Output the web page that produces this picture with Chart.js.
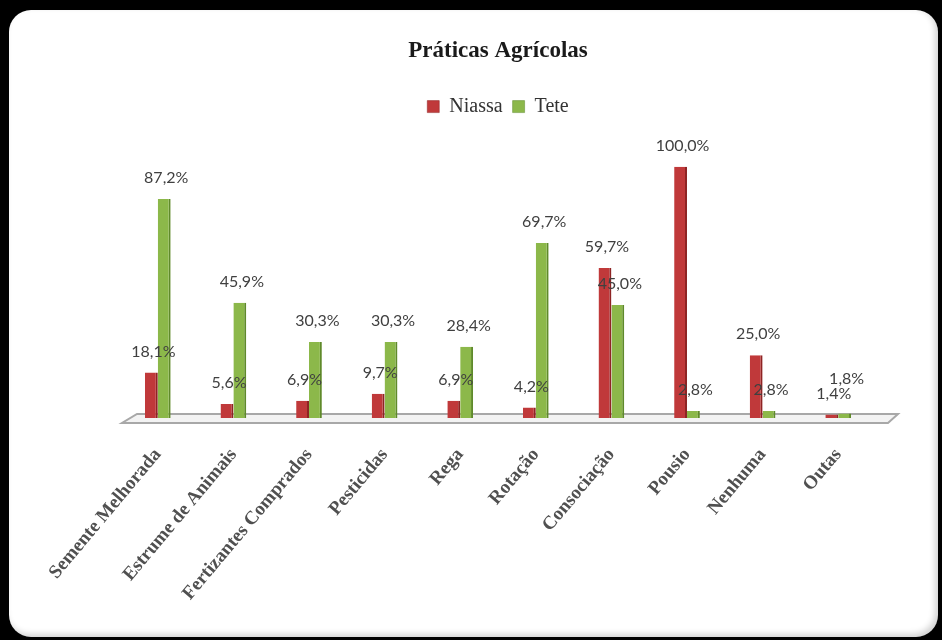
<!DOCTYPE html>
<html>
<head>
<meta charset="utf-8">
<script src="https://cdn.jsdelivr.net/npm/chart.js@4/dist/chart.umd.min.js"></script>
<style>
  html, body { margin: 0; padding: 0; background: #000; }
  body { width: 942px; height: 640px; position: relative; overflow: hidden; }
  .card {
    position: absolute; left: 9px; top: 10px; width: 929px; height: 627px;
    background: #fff; border-radius: 22px;
    box-shadow: inset -3px -3px 6px rgba(0,0,0,0.18);
  }
  #chart { position: absolute; left: 0; top: 0; }
</style>
</head>
<body>
<div class="card"></div>
<canvas id="chart" width="942" height="640"></canvas>
<script>
const categories = ['Semente Melhorada','Estrume de Animais','Fertizantes Comprados','Pesticidas','Rega','Rotação','Consociação','Pousio','Nenhuma','Outas'];
const niassa = [18.1, 5.6, 6.9, 9.7, 6.9, 4.2, 59.7, 100.0, 25.0, 1.4];
const tete = [87.2, 45.9, 30.3, 30.3, 28.4, 69.7, 45.0, 2.8, 2.8, 1.8];

const fmt = v => v.toFixed(1).replace('.', ',') + '%';

// grey 3d floor under the bars
const floor = {
    id:'floor',
    beforeDatasetsDraw(chart){
        const {ctx, chartArea} = chart;
        const y0 = chart.scales.y.getPixelForValue(0);
        ctx.save();
        ctx.beginPath();
        ctx.moveTo(chartArea.left + 2, y0 + 5);
        ctx.lineTo(chartArea.right + 12, y0 + 5);
        ctx.lineTo(chartArea.right + 22, y0 - 4);
        ctx.lineTo(chartArea.left + 17, y0 - 4);
        ctx.closePath();
        ctx.fillStyle = '#f3f3f3';
        ctx.fill();
        ctx.strokeStyle = '#a8a8a8';
        ctx.lineWidth = 2;
        ctx.stroke();
        ctx.restore();
    }
};

// value labels above every bar
const valueLabels = {
    id:'valueLabels',
    afterDatasetsDraw(chart){
        const ctx = chart.ctx;
        ctx.save();
        ctx.font = '16px Lato';
        ctx.fillStyle = '#404040';
        ctx.textAlign = 'center';
        ctx.textBaseline = 'bottom';
        const placed = [];
        chart.data.datasets.forEach((ds, i) => {
            chart.getDatasetMeta(i).data.forEach((bar, j) => {
                const text = fmt(ds.data[j]);
                const w = ctx.measureText(text).width;
                let x = bar.x + 2, y = bar.y - 13;
                // lift a label that would sit on top of its neighbour
                const prev = placed[j];
                if(prev && Math.abs(prev.y - y) < 14 && Math.abs(prev.x - x) < (prev.w + w) / 2){
                    y = prev.y - 15;
                }
                ctx.fillText(text, x, y);
                placed[j] = {x, y, w};
            });
        });
        ctx.restore();
    }
};

const chart = document.querySelector('#chart').getContext('2d');
new Chart(chart,{
    type:'bar',
    data:{
        labels:categories,
        datasets:[
            {
                label:'Niassa',
                data:niassa,
                backgroundColor:'#c0393a',
                borderColor:'#8e2424',
                borderWidth:{top:0,left:0,bottom:0,right:2},
                categoryPercentage:0.34,
                barPercentage:1
            },
            {
                label:'Tete',
                data:tete,
                backgroundColor:'#8cb84a',
                borderColor:'#5f8a2a',
                borderWidth:{top:0,left:0,bottom:0,right:2},
                categoryPercentage:0.34,
                barPercentage:1
            }
        ]
    },
    options:{
        responsive:false,
        animation:false,
        layout:{padding:{top:31,left:120,right:66,bottom:0}},
        plugins:{
            title:{
                display:true,
                text:'Práticas Agrícolas',
                color:'#1a1a1a',
                font:{family:'Liberation Serif', size:23, weight:'bold'},
                padding:{top:6,bottom:22}
            },
            legend:{
                labels:{
                    color:'#333',
                    font:{family:'Liberation Serif', size:20},
                    boxWidth:12,
                    boxHeight:12,
                    padding:10
                }
            },
            tooltip:{enabled:false}
        },
        scales:{
            x:{
                grid:{display:false},
                border:{display:false},
                ticks:{
                    color:'#505050',
                    font:{family:'Liberation Serif', size:19, weight:'bold'},
                    minRotation:50,
                    maxRotation:50,
                    padding:18,
                    autoSkip:false
                },
                afterFit(scale){
                    scale.height = 222;
                    scale.paddingLeft = 0;
                    scale.paddingRight = 0;
                }
            },
            y:{
                display:false,
                min:0,
                max:116
            }
        }
    },
    plugins:[floor, valueLabels]
})
</script>
</body>
</html>
